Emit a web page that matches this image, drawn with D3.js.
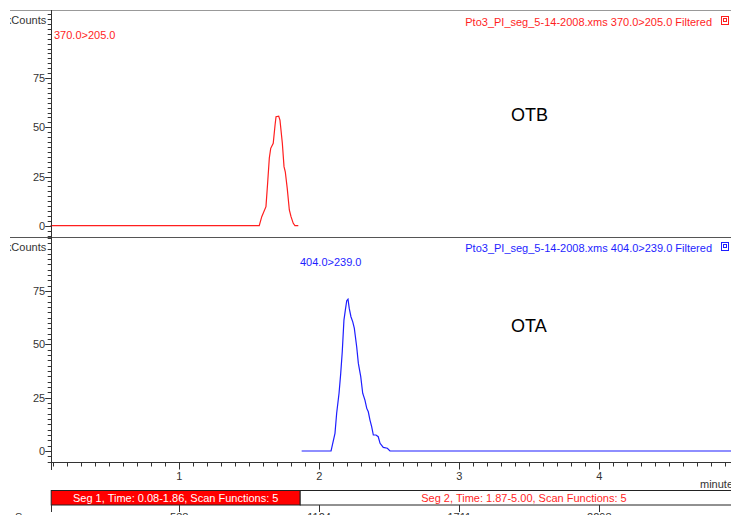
<!DOCTYPE html>
<html>
<head>
<meta charset="utf-8">
<script src="https://cdn.jsdelivr.net/npm/d3@7/dist/d3.min.js"></script>
<style>
  html, body { margin: 0; padding: 0; background: #fff; }
  svg { display: block; font-family: "Liberation Sans", Arial, sans-serif; }
</style>
</head>
<body>
<svg id="chart" width="731" height="515"></svg>
<script>
// ---- Chromatogram data (time in minutes, intensity in counts) ----
const otbTime   = [0.08, 1.571, 1.589, 1.619, 1.631, 1.643, 1.653, 1.671, 1.684, 1.691, 1.710, 1.719, 1.736, 1.748, 1.757, 1.771, 1.786, 1.798, 1.814, 1.826, 1.850];
const otbCounts = [0,    0,     4.6,   9.7,   21.7,  34.4,  39.3,  41.9,  51.2,  55.4,  55.7,  53.7,  41.9,  30.0,  27.4,  19.0,  8.0,   4.6,   1.2,   0,     0];

const otaTime   = [1.874, 2.084, 2.096, 2.112, 2.124, 2.141, 2.153, 2.164, 2.176, 2.186, 2.196, 2.205, 2.214, 2.226, 2.239, 2.250, 2.267, 2.279, 2.296, 2.310, 2.326, 2.339, 2.350, 2.362, 2.374, 2.386, 2.405, 2.421, 2.434, 2.457, 2.486, 2.505, 5.0];
const otaCounts = [0,     0,     3.6,   8.3,   17.7,  27.1,  36.4,  46.6,  61.4,  66.1,  70.5,  71.2,  66.9,  63.0,  60.6,  57.6,  48.9,  41.1,  34.9,  27.1,  23.9,  20.0,  18.4,  14.5,  11.4,  7.5,   7.5,   6.7,   3.6,   1.7,   1.3,   0,     0];

const yTickValues  = [0, 25, 50, 75];
const xTickValues  = [1, 2, 3, 4];
const scanTicks    = [538, 1124, 1711, 2298];
const segStarts    = [0.08, 1.87];
const segEnds      = [1.86, 5.06];
const segLabels    = ["Seg 1, Time: 0.08-1.86, Scan Functions: 5", "Seg 2, Time: 1.87-5.00, Scan Functions: 5"];
const fileName     = "Pto3_PI_seg_5-14-2008.xms";
const transitions  = ["370.0>205.0", "404.0>239.0"];
const compounds    = ["OTB", "OTA"];

const RED = "#ff1e1e", BLUE = "#1e1eff";
const svg = d3.select("#chart");

// shared time axis
const x = d3.scaleLinear().domain([0, 5.1]).range([39.3, 39.3 + 140 * 5.1]);
const x0 = x(0.085);

// per-panel count scales
const yTop = d3.scaleLinear().domain([-5.74, 109.6]).range([237, 10]);
const yBot = d3.scaleLinear().domain([-5.16, 100.4]).range([462, 237]);

svg.append("defs").append("clipPath").attr("id", "leftclip")
  .append("rect").attr("x", 10).attr("y", 0).attr("width", 721).attr("height", 515);

// frame lines
svg.append("line").attr("x1", 10).attr("x2", 731).attr("y1", 10.5).attr("y2", 10.5)
  .attr("stroke", "#999").attr("stroke-width", 1);
svg.append("line").attr("x1", 10).attr("x2", 731).attr("y1", 237.5).attr("y2", 237.5)
  .attr("stroke", "#555").attr("stroke-width", 1.2);

function drawPanel(y, time, counts, color, hdrBaseline, labelPos, compound, compoundPos) {
  // minor + major y ticks
  const [d0, d1] = y.domain();
  const minor = d3.range(Math.ceil(d0 / 2.5) * 2.5, d1, 2.5);
  const g = svg.append("g");
  g.selectAll("line.minor").data(minor).join("line")
    .attr("x1", x0 - 3.5).attr("x2", x0)
    .attr("y1", d => Math.round(y(d)) + 0.5).attr("y2", d => Math.round(y(d)) + 0.5)
    .attr("stroke", "#333").attr("stroke-width", 1);
  g.selectAll("line.major").data(yTickValues).join("line")
    .attr("x1", x0 - 6).attr("x2", x0)
    .attr("y1", d => Math.round(y(d)) + 0.5).attr("y2", d => Math.round(y(d)) + 0.5)
    .attr("stroke", "#333").attr("stroke-width", 1);
  g.selectAll("text.ytick").data(yTickValues).join("text")
    .attr("x", x0 - 6).attr("y", d => y(d) + 4)
    .attr("text-anchor", "end").attr("font-size", 11).attr("fill", "#333")
    .text(d => d);
  // axis unit label (clipped at the frame edge)
  g.append("text").attr("clip-path", "url(#leftclip)")
    .attr("x", x0 - 5).attr("y", y.range()[1] + 14)
    .attr("text-anchor", "end").attr("font-size", 11).attr("fill", "#333")
    .text("kCounts");

  // trace
  const line = d3.line().x((d, i) => x(time[i])).y(d => y(d));
  svg.append("path").datum(counts)
    .attr("d", line).attr("fill", "none")
    .attr("stroke", color).attr("stroke-width", 1.2);

  // header
  svg.append("text").attr("x", 712).attr("y", hdrBaseline)
    .attr("text-anchor", "end").attr("font-size", 11).attr("fill", color)
    .text(fileName + " " + labelPos.text + " Filtered");
  svg.append("rect").attr("x", 721.5).attr("y", hdrBaseline - 9.5).attr("width", 7).attr("height", 8)
    .attr("fill", "none").attr("stroke", color).attr("stroke-width", 1);
  svg.append("rect").attr("x", 723.5).attr("y", hdrBaseline - 7.5).attr("width", 3).attr("height", 3)
    .attr("fill", "none").attr("stroke", color).attr("stroke-width", 1);

  // transition label near the trace
  svg.append("text").attr("x", labelPos.x).attr("y", labelPos.y)
    .attr("font-size", 11).attr("fill", color).text(labelPos.text);

  // compound name
  svg.append("text").attr("x", compoundPos[0]).attr("y", compoundPos[1])
    .attr("font-size", 18).attr("fill", "#000").text(compound);
}

drawPanel(yTop, otbTime, otbCounts, RED, 26, {x: 54, y: 39, text: transitions[0]}, compounds[0], [511, 121]);
drawPanel(yBot, otaTime, otaCounts, BLUE, 252, {x: 300, y: 266, text: transitions[1]}, compounds[1], [511, 332]);

// y axis line spanning both panels
svg.append("line").attr("x1", Math.round(x0) + 0.5).attr("x2", Math.round(x0) + 0.5)
  .attr("y1", 10).attr("y2", 470).attr("stroke", "#333").attr("stroke-width", 1);

// time axis
const axisY = 462.5;
svg.append("line").attr("x1", x0).attr("x2", 731).attr("y1", axisY).attr("y2", axisY)
  .attr("stroke", "#333").attr("stroke-width", 1);
const minorX = d3.range(0.1, 5.05, 0.1).filter(t => Math.abs(t - Math.round(t)) > 1e-6);
svg.selectAll("line.xminor").data(minorX).join("line")
  .attr("x1", d => Math.round(x(d)) + 0.5).attr("x2", d => Math.round(x(d)) + 0.5)
  .attr("y1", axisY).attr("y2", axisY + 4)
  .attr("stroke", "#333").attr("stroke-width", 1);
svg.selectAll("line.xmajor").data(xTickValues).join("line")
  .attr("x1", d => Math.round(x(d)) + 0.5).attr("x2", d => Math.round(x(d)) + 0.5)
  .attr("y1", axisY).attr("y2", axisY + 7)
  .attr("stroke", "#333").attr("stroke-width", 1);
svg.selectAll("text.xtick").data(xTickValues).join("text")
  .attr("x", d => x(d)).attr("y", 480)
  .attr("text-anchor", "middle").attr("font-size", 11).attr("fill", "#333")
  .text(d => d);
svg.append("text").attr("x", 700).attr("y", 488)
  .attr("font-size", 11).attr("fill", "#333").text("minutes");

// acquisition segments bar
const segY = 490.5, segH = 14.5;
segStarts.forEach((s, i) => {
  const xa = i === 0 ? x0 : x(segEnds[0]) + 0.5;
  const xb = x(segEnds[i]) + (i === 0 ? 0.5 : 0);
  svg.append("rect").attr("x", xa).attr("y", segY).attr("width", xb - xa).attr("height", segH)
    .attr("fill", i === 0 ? "#ff0000" : "#fff").attr("stroke", "#222").attr("stroke-width", 1);
  svg.append("text").attr("x", (xa + xb) / 2).attr("y", segY + 11)
    .attr("text-anchor", "middle").attr("font-size", 11)
    .attr("fill", i === 0 ? "#fff" : RED).text(segLabels[i]);
});

// scan-number axis under the segment bar
const scan = d3.scaleLinear().domain([scanTicks[0], scanTicks[3]]).range([x(1), x(4)]);
svg.append("line").attr("x1", Math.round(x0) + 0.5).attr("x2", Math.round(x0) + 0.5)
  .attr("y1", 505).attr("y2", 512).attr("stroke", "#333");
svg.selectAll("line.scan").data(scanTicks).join("line")
  .attr("x1", d => Math.round(scan(d)) + 0.5).attr("x2", d => Math.round(scan(d)) + 0.5)
  .attr("y1", 505).attr("y2", 512).attr("stroke", "#333").attr("stroke-width", 1);
svg.selectAll("text.scan").data(scanTicks).join("text")
  .attr("x", d => scan(d)).attr("y", 521)
  .attr("text-anchor", "middle").attr("font-size", 11).attr("fill", "#333")
  .text(d => d);
svg.append("text").attr("x", 15).attr("y", 521)
  .attr("font-size", 11).attr("fill", "#333").text("Scans");
</script>
</body>
</html>
